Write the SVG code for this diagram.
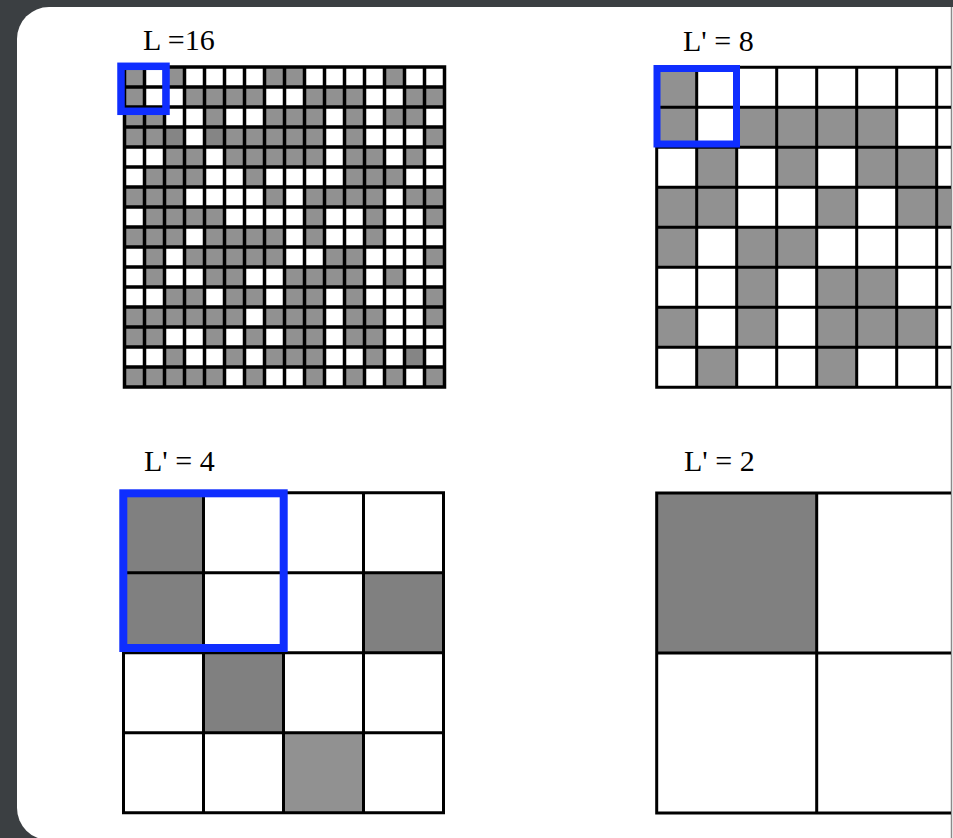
<svg xmlns="http://www.w3.org/2000/svg" width="953" height="838" viewBox="0 0 953 838">
<style>
.lbl{font-family:"Liberation Serif","Times New Roman",serif;font-size:30px;fill:#000}
.g{fill:#919191}
.d{fill:#858585}
.m{fill:#808080}
.ln{stroke:#000;fill:none}
.blue{fill:none;stroke:#0f2eff}
</style>
<defs>
<clipPath id="cardclip"><rect x="0" y="0" width="951" height="838"/></clipPath>
</defs>
<rect x="0" y="0" width="953" height="838" fill="#3b3f42"/>
<rect x="17" y="7" width="980" height="833" rx="32" ry="32" fill="#fff"/>
<line x1="951.5" y1="7" x2="951.5" y2="838" stroke="#8a8a8a" stroke-width="1.5"/>

<g id="grid16">
<text class="lbl" x="143" y="50">L =16</text>
<rect x="124.5" y="67" width="320" height="320" fill="#fff"/>
<g transform="translate(124.5,67)">
<!-- row0 -->
<rect class="g" x="40" y="0" width="20" height="20"/><rect class="g" x="140" y="0" width="20" height="20"/><rect class="g" x="160" y="0" width="20" height="20"/><rect class="g" x="260" y="0" width="20" height="20"/><rect class="g" x="0" y="0" width="20" height="20"/>
<!-- row1 -->
<rect class="g" x="0" y="20" width="20" height="20"/><rect class="g" x="60" y="20" width="80" height="20"/><rect class="g" x="180" y="20" width="60" height="20"/><rect class="g" x="280" y="20" width="40" height="20"/>
<!-- row2 -->
<rect class="g" x="0" y="40" width="40" height="20"/><rect class="g" x="80" y="40" width="20" height="20"/><rect class="g" x="140" y="40" width="60" height="20"/><rect class="g" x="220" y="40" width="20" height="20"/><rect class="g" x="260" y="40" width="40" height="20"/>
<!-- row3 -->
<rect class="g" x="0" y="60" width="40" height="20"/><rect class="d" x="40" y="60" width="20" height="20"/><rect class="d" x="80" y="60" width="20" height="20"/><rect class="g" x="100" y="60" width="100" height="20"/><rect class="g" x="220" y="60" width="20" height="20"/><rect class="g" x="300" y="60" width="20" height="20"/>
<!-- row4 -->
<rect class="g" x="40" y="80" width="40" height="20"/><rect class="g" x="100" y="80" width="100" height="20"/><rect class="g" x="220" y="80" width="40" height="20"/><rect class="g" x="280" y="80" width="20" height="20"/>
<!-- row5 -->
<rect class="g" x="20" y="100" width="60" height="20"/><rect class="g" x="120" y="100" width="20" height="20"/><rect class="g" x="220" y="100" width="60" height="20"/>
<!-- row6 -->
<rect class="g" x="0" y="120" width="60" height="20"/><rect class="g" x="140" y="120" width="20" height="20"/><rect class="g" x="180" y="120" width="80" height="20"/><rect class="g" x="280" y="120" width="40" height="20"/>
<!-- row7 -->
<rect class="g" x="20" y="140" width="80" height="20"/><rect class="g" x="180" y="140" width="20" height="20"/><rect class="g" x="240" y="140" width="20" height="20"/><rect class="g" x="300" y="140" width="20" height="20"/>
<!-- row8 -->
<rect class="g" x="0" y="160" width="60" height="20"/><rect class="g" x="80" y="160" width="80" height="20"/><rect class="g" x="180" y="160" width="20" height="20"/><rect class="g" x="240" y="160" width="20" height="20"/>
<!-- row9 -->
<rect class="g" x="20" y="180" width="20" height="20"/><rect class="g" x="60" y="180" width="100" height="20"/><rect class="g" x="200" y="180" width="40" height="20"/><rect class="g" x="300" y="180" width="20" height="20"/>
<!-- row10 -->
<rect class="g" x="20" y="200" width="20" height="20"/><rect class="g" x="80" y="200" width="40" height="20"/><rect class="g" x="160" y="200" width="80" height="20"/><rect class="g" x="260" y="200" width="20" height="20"/>
<!-- row11 -->
<rect class="g" x="40" y="220" width="40" height="20"/><rect class="g" x="100" y="220" width="40" height="20"/><rect class="g" x="160" y="220" width="40" height="20"/><rect class="g" x="220" y="220" width="20" height="20"/><rect class="g" x="300" y="220" width="20" height="20"/>
<!-- row12 -->
<rect class="g" x="0" y="240" width="120" height="20"/><rect class="g" x="140" y="240" width="60" height="20"/><rect class="g" x="220" y="240" width="40" height="20"/><rect class="g" x="300" y="240" width="20" height="20"/>
<!-- row13 -->
<rect class="g" x="0" y="260" width="40" height="20"/><rect class="g" x="80" y="260" width="20" height="20"/><rect class="g" x="120" y="260" width="20" height="20"/><rect class="g" x="160" y="260" width="40" height="20"/><rect class="g" x="220" y="260" width="40" height="20"/>
<!-- row14 -->
<rect class="g" x="40" y="280" width="20" height="20"/><rect class="g" x="100" y="280" width="20" height="20"/><rect class="g" x="140" y="280" width="60" height="20"/><rect class="g" x="240" y="280" width="20" height="20"/><rect class="d" x="280" y="280" width="20" height="20"/>
<!-- row15 -->
<rect class="g" x="0" y="300" width="100" height="20"/><rect class="g" x="120" y="300" width="20" height="20"/><rect class="g" x="180" y="300" width="20" height="20"/><rect class="g" x="220" y="300" width="20" height="20"/><rect class="g" x="260" y="300" width="20" height="20"/><rect class="g" x="300" y="300" width="20" height="20"/>
<path class="ln" stroke-width="3.5" d="M0,0V320M20,0V320M40,0V320M60,0V320M80,0V320M100,0V320M120,0V320M140,0V320M160,0V320M180,0V320M200,0V320M220,0V320M240,0V320M260,0V320M280,0V320M300,0V320M320,0V320M-1.75,0H321.75M-1.75,20H321.75M-1.75,40H321.75M-1.75,60H321.75M-1.75,80H321.75M-1.75,100H321.75M-1.75,120H321.75M-1.75,140H321.75M-1.75,160H321.75M-1.75,180H321.75M-1.75,200H321.75M-1.75,220H321.75M-1.75,240H321.75M-1.75,260H321.75M-1.75,280H321.75M-1.75,300H321.75M-1.75,320H321.75"/>
</g>
<rect class="blue" x="121" y="66.3" width="45" height="45" stroke-width="7.5"/>
</g>

<g id="grid8">
<text class="lbl" x="683" y="50.5">L' = 8</text>
<g clip-path="url(#cardclip)">
<g transform="translate(656.7,67.3)">
<rect class="g" x="0" y="0" width="40" height="80"/>
<rect class="g" x="80" y="40" width="160" height="40"/>
<rect class="g" x="40" y="80" width="40" height="40"/><rect class="g" x="120" y="80" width="40" height="40"/><rect class="g" x="200" y="80" width="80" height="40"/>
<rect class="g" x="0" y="120" width="80" height="40"/><rect class="g" x="160" y="120" width="40" height="40"/><rect class="g" x="240" y="120" width="80" height="40"/>
<rect class="g" x="0" y="160" width="40" height="40"/><rect class="g" x="80" y="160" width="80" height="40"/>
<rect class="g" x="80" y="200" width="40" height="40"/><rect class="g" x="160" y="200" width="80" height="40"/>
<rect class="g" x="0" y="240" width="40" height="40"/><rect class="g" x="80" y="240" width="40" height="40"/><rect class="g" x="160" y="240" width="120" height="40"/>
<rect class="g" x="40" y="280" width="40" height="40"/><rect class="g" x="160" y="280" width="40" height="40"/>
<path class="ln" stroke-width="3" d="M0,0V320M40,0V320M80,0V320M120,0V320M160,0V320M200,0V320M240,0V320M280,0V320M-1.5,0H330M-1.5,40H330M-1.5,80H330M-1.5,120H330M-1.5,160H330M-1.5,200H330M-1.5,240H330M-1.5,280H330M-1.5,320H330"/>
</g>
</g>
<rect class="blue" x="657" y="68.5" width="79.5" height="75.5" stroke-width="7"/>
</g>

<g id="grid4">
<text class="lbl" x="144" y="471">L' = 4</text>
<g transform="translate(123.5,492.7)">
<rect class="m" x="0" y="0" width="80" height="160"/>
<rect class="m" x="240" y="80" width="80" height="80"/>
<rect class="m" x="80" y="160" width="80" height="80"/>
<rect class="g" x="160" y="240" width="80" height="80"/>
<path class="ln" stroke-width="3" d="M0,0V320M80,0V320M160,0V320M240,0V320M320,0V320M-1.5,0H321.5M-1.5,80H321.5M-1.5,160H321.5M-1.5,240H321.5M-1.5,320H321.5"/>
</g>
<rect class="blue" x="123.3" y="493.3" width="160.4" height="154.7" stroke-width="8"/>
</g>

<g id="grid2">
<text class="lbl" x="684" y="471">L' = 2</text>
<g clip-path="url(#cardclip)">
<g transform="translate(656.7,493)">
<rect class="m" x="0" y="0" width="160" height="160"/>
<path class="ln" stroke-width="3" d="M0,0V320M160,0V320M-1.5,0H330M-1.5,160H330M-1.5,320H330"/>
</g>
</g>
</g>
</svg>
